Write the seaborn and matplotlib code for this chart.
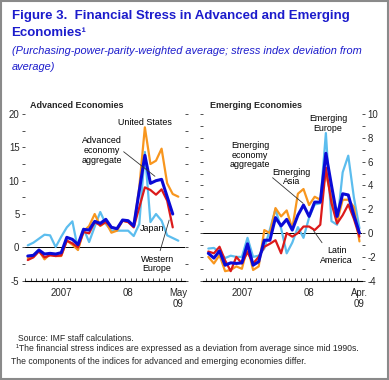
import numpy as np
import pandas as pd
import matplotlib.pyplot as plt
import seaborn as sns

# monthly values, Jan 2007 onwards (stress index deviation from average)
united_states = [-1.6, -1.4, -0.5, -1.8, -1.0, -1.3, -1.3, 1.0, 0.4, -0.4, 2.4, 3.2, 5.0, 3.2,
                 3.8, 2.2, 2.5, 4.0, 3.8, 3.2, 9.0, 18.0, 12.5, 13.0, 14.8, 9.6, 8.0, 7.6]
japan = [0.3, 0.7, 1.3, 1.9, 1.8, 0.05, 1.6, 3.0, 3.9, -0.3, 2.8, 0.8, 3.1, 5.3,
         3.5, 2.5, 2.5, 2.5, 2.5, 1.7, 3.5, 14.3, 3.8, 5.0, 4.0, 1.8, 1.4, 1.0]
western_europe = [-1.9, -1.5, -0.6, -1.5, -1.2, -1.3, -1.2, 1.0, 0.6, 0.0, 2.3, 2.1, 3.8, 3.3,
                  3.8, 3.0, 2.8, 4.0, 3.8, 3.0, 6.0, 9.0, 8.6, 7.9, 8.7, 7.0, 3.0]
advanced_aggregate = [-1.3, -1.2, -0.4, -1.0, -0.9, -1.0, -0.8, 1.5, 1.2, 0.4, 2.7, 2.6, 3.9, 3.6,
                      4.2, 3.0, 2.8, 4.1, 4.0, 3.2, 8.5, 13.8, 9.6, 10.0, 10.2, 7.6, 5.0]

emerging_europe = [-1.3, -1.25, -1.6, -2.1, -1.9, -2.0, -2.0, -0.4, -2.0, -1.9, -1.3, 0.3, 2.0, 0.4,
                   -1.7, -0.8, 0.5, -0.4, 1.3, 2.4, 2.5, 8.4, 1.0, 0.7, 5.1, 6.5, 3.0, 0.4]
emerging_asia = [-2.0, -2.55, -1.85, -3.2, -3.1, -2.8, -3.0, -1.15, -3.1, -2.8, 0.25, 0.0, 2.1, 1.4,
                 1.9, 0.4, 3.3, 3.7, 2.35, 3.05, 2.8, 5.0, 3.0, 0.95, 2.8, 2.8, 2.2, -0.7]
latin_america = [-1.55, -1.7, -1.15, -2.3, -3.2, -2.0, -2.55, -1.6, -2.55, -2.0, -1.15, -0.9, -0.6, -1.7,
                 0.0, -0.3, 0.0, 0.55, 0.55, 0.25, 0.7, 5.5, 2.5, 0.8, 1.5, 2.4, 1.2, -0.3]
emerging_aggregate = [-1.7, -2.1, -1.5, -2.7, -2.5, -2.55, -2.5, -0.9, -2.7, -2.4, -0.6, -0.6, 1.3, 0.6,
                      1.15, 0.25, 1.5, 2.35, 1.4, 2.6, 2.6, 6.7, 4.0, 1.4, 3.3, 3.2, 1.5, 0.0]

left_xlabels = ["2007", "08", "May\n09"]
right_xlabels = ["2007", "08", "Apr.\n09"]

ORANGE = "#f8961e"
RED = "#dc1a1a"
LIGHT = "#5cbdee"
DARK = "#0a0ad6"
BLUE_TEXT = "#1c1ccc"

sns.set_theme(style="white")
plt.rcParams["font.family"] = ["Liberation Sans", "DejaVu Sans"]


def draw_series(ax, values, color, lw):
    df = pd.DataFrame({"month": np.arange(len(values)), "value": values})
    sns.lineplot(data=df, x="month", y="value", ax=ax, color=color, linewidth=lw)


def style_axis(ax, xlim, ylim, ystep, label_every, xlabels, label_side):
    ax.set_xlim(*xlim)
    ax.set_ylim(*ylim)
    ax.set_xlabel("")
    ax.set_ylabel("")
    for side in ["top", "left", "right"]:
        ax.spines[side].set_visible(False)
    ax.spines["bottom"].set_color("black")
    ax.spines["bottom"].set_linewidth(0.8)
    ax.axhline(0, color="black", lw=0.7, zorder=1)

    yt = np.arange(ylim[0], ylim[1] + 0.01, ystep)
    ax.set_yticks(yt)
    ax.set_yticklabels([f"{v:g}" if abs(v / label_every - round(v / label_every)) < 1e-6 else "" for v in yt])
    ax.tick_params(axis="y", left=True, right=True, direction="out", length=2.5, width=0.6,
                   color="#333333", labelsize=6.9, pad=1.5,
                   labelleft=(label_side == "left"), labelright=(label_side == "right"))

    ax.set_xticks([6, 18, 27])
    ax.set_xticklabels(xlabels)
    ax.set_xticks(np.arange(-0.5, xlim[1], 1), minor=True)
    ax.tick_params(axis="x", which="major", length=0, labelsize=6.9, pad=5)
    ax.tick_params(axis="x", which="minor", bottom=True, direction="in", length=2, width=0.6,
                   color="#333333")


fig = plt.figure(figsize=(3.89, 3.80), dpi=100)
axl = fig.add_axes([25 / 389, 1 - 280.7 / 380, 160 / 389, 166.7 / 380])
axr = fig.add_axes([203 / 389, 1 - 280.7 / 380, 158.7 / 389, 166.7 / 380])

# left panel
draw_series(axl, japan, LIGHT, 1.6)
draw_series(axl, united_states, ORANGE, 1.6)
draw_series(axl, western_europe, RED, 1.6)
draw_series(axl, advanced_aggregate, DARK, 2.2)
style_axis(axl, (-0.36, 28.2), (-5, 20), 2.5, 5, left_xlabels, "left")

# right panel
draw_series(axr, emerging_europe, LIGHT, 1.6)
draw_series(axr, emerging_asia, ORANGE, 1.6)
draw_series(axr, latin_america, RED, 1.6)
draw_series(axr, emerging_aggregate, DARK, 2.2)
style_axis(axr, (-0.95, 27.4), (-4, 10), 1, 2, right_xlabels, "right")

ann = dict(fontsize=6.4, ha="center", va="center", linespacing=1.1, color="black")
line = dict(arrowstyle="-", color="#333333", lw=0.6)

axl.text(0.03, 1.048, "Advanced Economies", transform=axl.transAxes, fontsize=6.5,
         fontweight="bold", va="center", ha="left")
axl.text(21.1, 18.7, "United States", **ann)
axl.text(13.3, 14.5, "Advanced\neconomy\naggregate", **ann)
axl.annotate("", xy=(23.2, 10.4), xytext=(16.8, 14.6), arrowprops=line)
axl.text(22.3, 2.8, "Japan", **ann)
axl.text(23.2, -2.5, "Western\nEurope", **ann)
axl.annotate("", xy=(25.5, 4.5), xytext=(23.6, -0.9), arrowprops=line)

axr.text(0.044, 1.048, "Emerging Economies", transform=axr.transAxes, fontsize=6.5,
         fontweight="bold", va="center", ha="left")
axr.text(21.4, 9.2, "Emerging\nEurope", **ann)
axr.text(7.45, 6.55, "Emerging\neconomy\naggregate", **ann)
axr.annotate("", xy=(17.3, 2.35), xytext=(11.1, 4.8), arrowprops=line)
axr.text(14.9, 4.7, "Emerging\nAsia", **ann)
axr.text(22.9, -1.9, "Latin\nAmerica", **ann)
axr.annotate("", xy=(18.5, 0.4), xytext=(20.6, -1.0), arrowprops=line)

# title block
fig.text(11.5 / 389, 1 - 15.7 / 380, "Figure 3.  Financial Stress in Advanced and Emerging",
         fontsize=9.5, fontweight="bold", color=BLUE_TEXT, va="center", ha="left")
fig.text(11.5 / 389, 1 - 33.3 / 380, "Economies¹", fontsize=9.5, fontweight="bold",
         color=BLUE_TEXT, va="center", ha="left")
fig.text(11.5 / 389, 1 - 50.7 / 380,
         "(Purchasing-power-parity-weighted average; stress index deviation from",
         fontsize=7.9, style="italic", color=BLUE_TEXT, va="center", ha="left")
fig.text(11.5 / 389, 1 - 66.7 / 380, "average)", fontsize=7.9, style="italic",
         color=BLUE_TEXT, va="center", ha="left")

# footnotes
fig.text(18 / 389, 1 - 338.3 / 380, "Source: IMF staff calculations.", fontsize=6.2,
         va="center", ha="left")
fig.text(15.5 / 389, 1 - 348.5 / 380,
         "¹The financial stress indices are expressed as a deviation from average since mid 1990s.",
         fontsize=6.2, va="center", ha="left")
fig.text(11 / 389, 1 - 361.7 / 380,
         "The components of the indices for advanced and emerging economies differ.",
         fontsize=6.2, va="center", ha="left")

# frame around the figure
fig.patches.append(plt.Rectangle((0.002, 0.002), 0.996, 0.996, transform=fig.transFigure,
                                 fill=False, edgecolor="#8a8a8a", lw=1.5))

fig.savefig("out.png", dpi=100)
